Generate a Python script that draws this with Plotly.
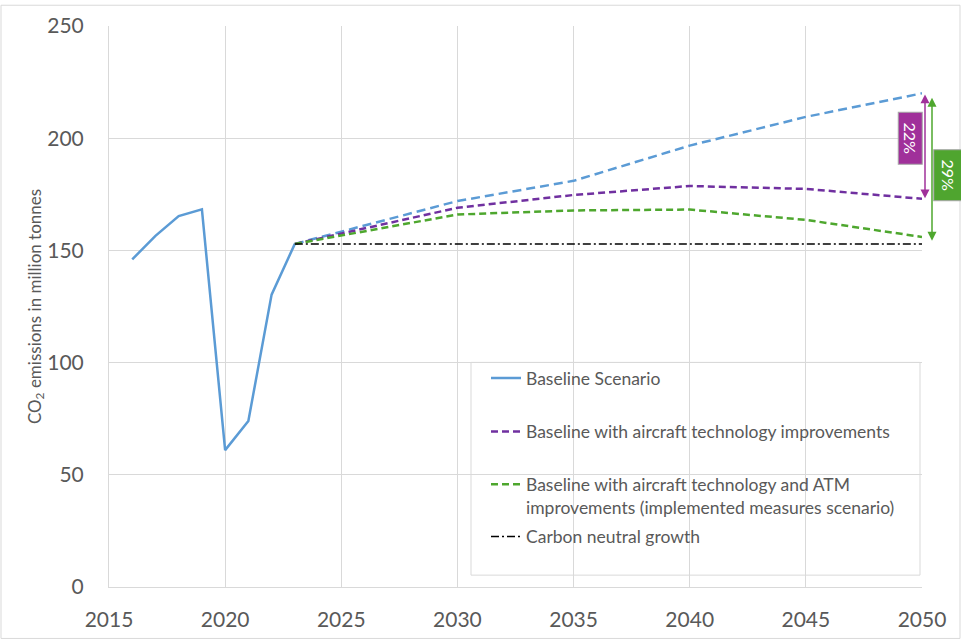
import plotly.graph_objects as go

hist_years = [2016, 2017, 2018, 2019, 2020, 2021, 2022, 2023]
hist_values = [146, 156.5, 165.3, 168.3, 61, 74, 130.3, 152.9]

proj_years = [2023, 2030, 2035, 2040, 2045, 2050]
baseline_proj = [152.9, 172, 181, 196.7, 209.5, 220]
tech_proj = [152.9, 169, 174.7, 178.7, 177.4, 173]
tech_atm_proj = [152.9, 166, 167.8, 168.2, 163.6, 156]
neutral_years = [2023, 2050]
neutral_values = [152.9, 152.9]

x_ticks = [2015, 2020, 2025, 2030, 2035, 2040, 2045, 2050]
y_ticks = [0, 50, 100, 150, 200, 250]

BLUE = "#5B9BD5"
PURPLE = "#7030A0"
GREEN = "#4EA72E"
MAGENTA = "#A0309A"
GRID = "#D9D9D9"
TXT = "#595959"
FONT = "Lato"

L, R, T, B = 109, 39, 22, 54
W, H = 961, 643
pw, ph = W - L - R, H - T - B
YPX = ph / 250.0  # pixels per data unit


def px(xpix):
    return (xpix - L) / pw


def py(ypix):
    return (H - B - ypix) / ph


fig = go.Figure()
fig.add_trace(go.Scatter(x=hist_years, y=hist_values, mode="lines",
                         name="Baseline Scenario", legend="legend",
                         line=dict(color=BLUE, width=2.5)))
fig.add_trace(go.Scatter(x=proj_years, y=baseline_proj, mode="lines",
                         showlegend=False, line=dict(color=BLUE, width=2.5, dash="9px,5px")))
fig.add_trace(go.Scatter(x=proj_years, y=tech_proj, mode="lines",
                         name="Baseline with aircraft technology improvements", legend="legend2",
                         line=dict(color=PURPLE, width=2.5, dash="7px,4px")))
fig.add_trace(go.Scatter(x=proj_years, y=tech_atm_proj, mode="lines",
                         name="Baseline with aircraft technology and ATM<br>improvements (implemented measures scenario)",
                         legend="legend3",
                         line=dict(color=GREEN, width=2.5, dash="7px,4px")))
fig.add_trace(go.Scatter(x=neutral_years, y=neutral_values, mode="lines",
                         name="Carbon neutral growth", legend="legend4",
                         line=dict(color="black", width=1.5, dash="8px,3px,2px,3px")))


def double_arrow(xpix, ytop, ybot, color):
    x = px(xpix)
    hl = 9 / YPX      # head length in data units
    hw = 4.5 / pw     # head half width in paper units
    fig.add_shape(type="line", xref="paper", yref="y", x0=x, x1=x, y0=ytop - hl * 0.8,
                  y1=ybot + hl * 0.8, line=dict(color=color, width=1.5))
    fig.add_shape(type="path", xref="paper", yref="y", fillcolor=color, line=dict(width=0),
                  path=f"M {x} {ytop} L {x - hw} {ytop - hl} L {x + hw} {ytop - hl} Z")
    fig.add_shape(type="path", xref="paper", yref="y", fillcolor=color, line=dict(width=0),
                  path=f"M {x} {ybot} L {x - hw} {ybot + hl} L {x + hw} {ybot + hl} Z")


double_arrow(925, 219.5, 173.2, MAGENTA)
double_arrow(932, 218, 154.3, GREEN)

fig.add_annotation(x=px(922.5), y=200.2, xref="paper", yref="y", text="22%", showarrow=False,
                   textangle=90, bgcolor=MAGENTA, bordercolor="#A6A6A6", borderwidth=1,
                   borderpad=3, width=45, height=17,
                   font=dict(family=FONT, size=16, color="white"))
fig.add_annotation(x=px(963), y=183.5, xref="paper", yref="y", text="29%", showarrow=False,
                   textangle=90, bgcolor="#4FA52F", bordercolor="#A6A6A6", borderwidth=1,
                   borderpad=3, width=44, height=22,
                   font=dict(family=FONT, size=16, color="white"))

# legend box
fig.add_shape(type="rect", xref="paper", yref="paper", layer="below",
              x0=px(471), x1=px(920), y0=py(577), y1=py(362),
              line=dict(color=GRID, width=1), fillcolor="white")

# outer border
fig.add_shape(type="rect", xref="paper", yref="paper",
              x0=px(1), x1=px(W - 1), y0=py(H - 2), y1=py(1),
              line=dict(color=GRID, width=1))

leg_common = dict(xanchor="left", yanchor="middle", bgcolor="rgba(0,0,0,0)",
                  borderwidth=0, font=dict(family=FONT, size=17.5, color=TXT), valign="top")

fig.update_layout(
    width=W, height=H,
    margin=dict(l=L, r=R, t=T, b=B),
    paper_bgcolor="white", plot_bgcolor="white",
    font=dict(family=FONT, color=TXT),
    showlegend=True,
    legend=dict(x=px(486), y=py(378), **leg_common),
    legend2=dict(x=px(486), y=py(432), **leg_common),
    legend3=dict(x=px(486), y=py(497), **leg_common),
    legend4=dict(x=px(486), y=py(538), **leg_common),
    xaxis=dict(range=[2015, 2050], tickvals=x_ticks, showgrid=True, gridcolor=GRID,
               showline=True, linecolor=GRID, zeroline=False, ticks="",
               tickfont=dict(size=21, color=TXT), ticklabelstandoff=14),
    yaxis=dict(range=[0, 250], tickvals=y_ticks, showgrid=True, gridcolor=GRID,
               showline=True, linecolor=GRID, zeroline=False, ticks="",
               tickfont=dict(size=21, color=TXT), ticklabelstandoff=20,
               title=dict(text="CO<sub>2</sub> emissions in million tonnes",
                          font=dict(size=17, color=TXT), standoff=1)),
)

fig.write_html("out.html", config={"displayModeBar": False},
               post_script="document.body.style.margin='0';")
